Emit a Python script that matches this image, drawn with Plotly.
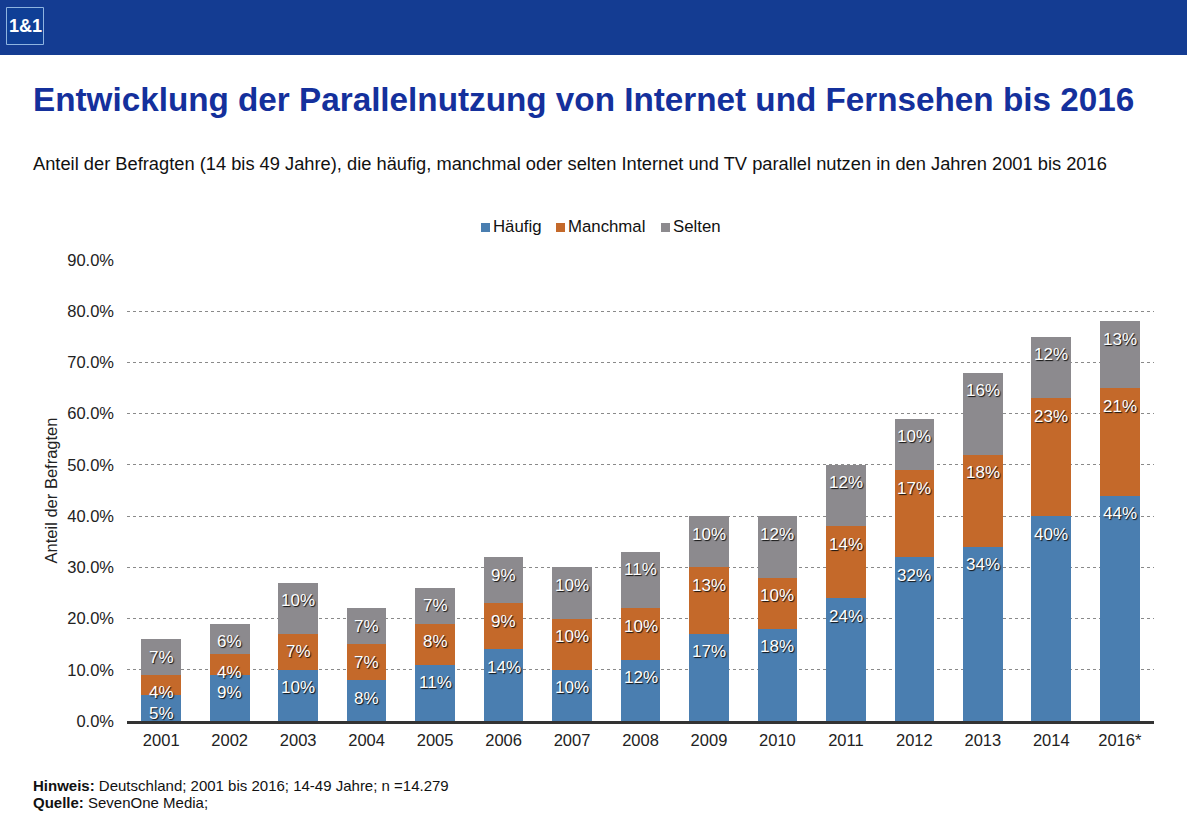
"""Parallel use of internet and TV, 2001-2016, stacked bars with the 1&1 slide header."""
import plotly.graph_objects as go

YEARS = ["2001", "2002", "2003", "2004", "2005", "2006", "2007", "2008",
         "2009", "2010", "2011", "2012", "2013", "2014", "2016*"]
HAEUFIG = [5, 9, 10, 8, 11, 14, 10, 12, 17, 18, 24, 32, 34, 40, 44]
MANCHMAL = [4, 4, 7, 7, 8, 9, 10, 10, 13, 10, 14, 17, 18, 23, 21]
SELTEN = [7, 6, 10, 7, 7, 9, 10, 11, 10, 12, 12, 10, 16, 12, 13]
Y_TICKS = [0, 10, 20, 30, 40, 50, 60, 70, 80, 90]
Y_LABELS = ["0.0%", "10.0%", "20.0%", "30.0%", "40.0%", "50.0%", "60.0%", "70.0%", "80.0%", "90.0%"]

FONT = "Liberation Sans"
BLUE, ORANGE, GREY = "#4a7eb0", "#c4692a", "#8c8a8e"
W, H = 1187, 822
PLOT_L, PLOT_R, PLOT_T, PLOT_B = 127, 1154, 260, 721


def px_x(x):
    return (x - PLOT_L) / (PLOT_R - PLOT_L)


def px_y(y):
    return (PLOT_B - y) / (PLOT_B - PLOT_T)


fig = go.Figure()
for name, vals, col in [("Häufig", HAEUFIG, BLUE), ("Manchmal", MANCHMAL, ORANGE), ("Selten", SELTEN, GREY)]:
    fig.add_trace(go.Bar(x=YEARS, y=vals, name=name, marker=dict(color=col, line_width=0)))

# value labels hang just under the top edge of each segment
notes = []
tops = [0] * len(YEARS)
for vals in (HAEUFIG, MANCHMAL, SELTEN):
    tops = [t + v for t, v in zip(tops, vals)]
    # category position, not the year string: "2001" would be cast to a number here
    for i, (t, v) in enumerate(zip(tops, vals)):
        notes.append(dict(x=i, y=t, text=f"{v}%", showarrow=False, yshift=-18,
                          font=dict(family=FONT, size=17, color="white",
                                    shadow="1px 1px 1px #111")))


def page_text(x, y, text, size, color="#111111", anchor="left", family=FONT):
    notes.append(dict(xref="paper", yref="paper", x=px_x(x), y=px_y(y), text=text, showarrow=False,
                      xanchor=anchor, yanchor="middle",
                      font=dict(family=family, size=size, color=color)))


page_text(31, 99, "<b>Entwicklung der Parallelnutzung von Internet und Fernsehen bis 2016</b>", 33.25,
          color="#14309c")
page_text(31, 164, "Anteil der Befragten (14 bis 49 Jahre), die häufig, manchmal oder selten "
                   "Internet und TV parallel nutzen in den Jahren 2001 bis 2016", 18.3)
page_text(31, 785, "<b>Hinweis:</b> Deutschland; 2001 bis 2016; 14-49 Jahre; n =14.279", 15)
page_text(31, 802, "<b>Quelle:</b> SevenOne Media;", 15)
page_text(25, 26, "<b>1&amp;1</b>", 18, color="white", anchor="center")

shapes = [
    dict(type="rect", xref="paper", yref="paper", layer="below",
         x0=px_x(0), x1=px_x(W), y0=px_y(0), y1=px_y(55), fillcolor="#143c92", line_width=0),
    dict(type="rect", xref="paper", yref="paper", layer="below",
         x0=px_x(6.5), x1=px_x(43.5), y0=px_y(7.5), y1=px_y(44.5),
         fillcolor="#0f3f96", line=dict(color="#8fb4e0", width=1)),
]

# legend drawn by hand: plotly's own keeps a much wider gap between swatch and text
for name, col, x0 in [("Häufig", BLUE, 481), ("Manchmal", ORANGE, 556), ("Selten", GREY, 661)]:
    shapes.append(dict(type="rect", xref="paper", yref="paper", x0=px_x(x0), x1=px_x(x0 + 9),
                       y0=px_y(223), y1=px_y(232), fillcolor=col, line_width=0))
    page_text(x0 + 9.5, 227, name, 16.8)

fig.update_layout(
    width=W, height=H, barmode="stack", bargap=0.42,
    margin=dict(l=PLOT_L, r=W - PLOT_R, t=PLOT_T, b=H - PLOT_B, autoexpand=False),
    paper_bgcolor="white", plot_bgcolor="white",
    font=dict(family=FONT, size=17, color="#222222"),
    showlegend=False,
    annotations=notes, shapes=shapes,
)
fig.update_xaxes(type="category", range=[-0.5, 14.5], showline=True, linecolor="#333333", linewidth=3,
                 ticks="", tickfont=dict(size=16.5), ticklabelstandoff=2, zeroline=False)
fig.update_yaxes(range=[0, 90], tickvals=Y_TICKS, ticktext=Y_LABELS, tickfont=dict(size=16.5),
                 ticklabelstandoff=12, gridcolor="#8a8a8a", griddash="dot", gridwidth=1,
                 zeroline=False, ticks="",
                 title=dict(text="Anteil der Befragten", font=dict(size=16.5), standoff=5))

fig.write_html("out.html", post_script="document.body.style.margin='0';",
               config={"displayModeBar": False})
